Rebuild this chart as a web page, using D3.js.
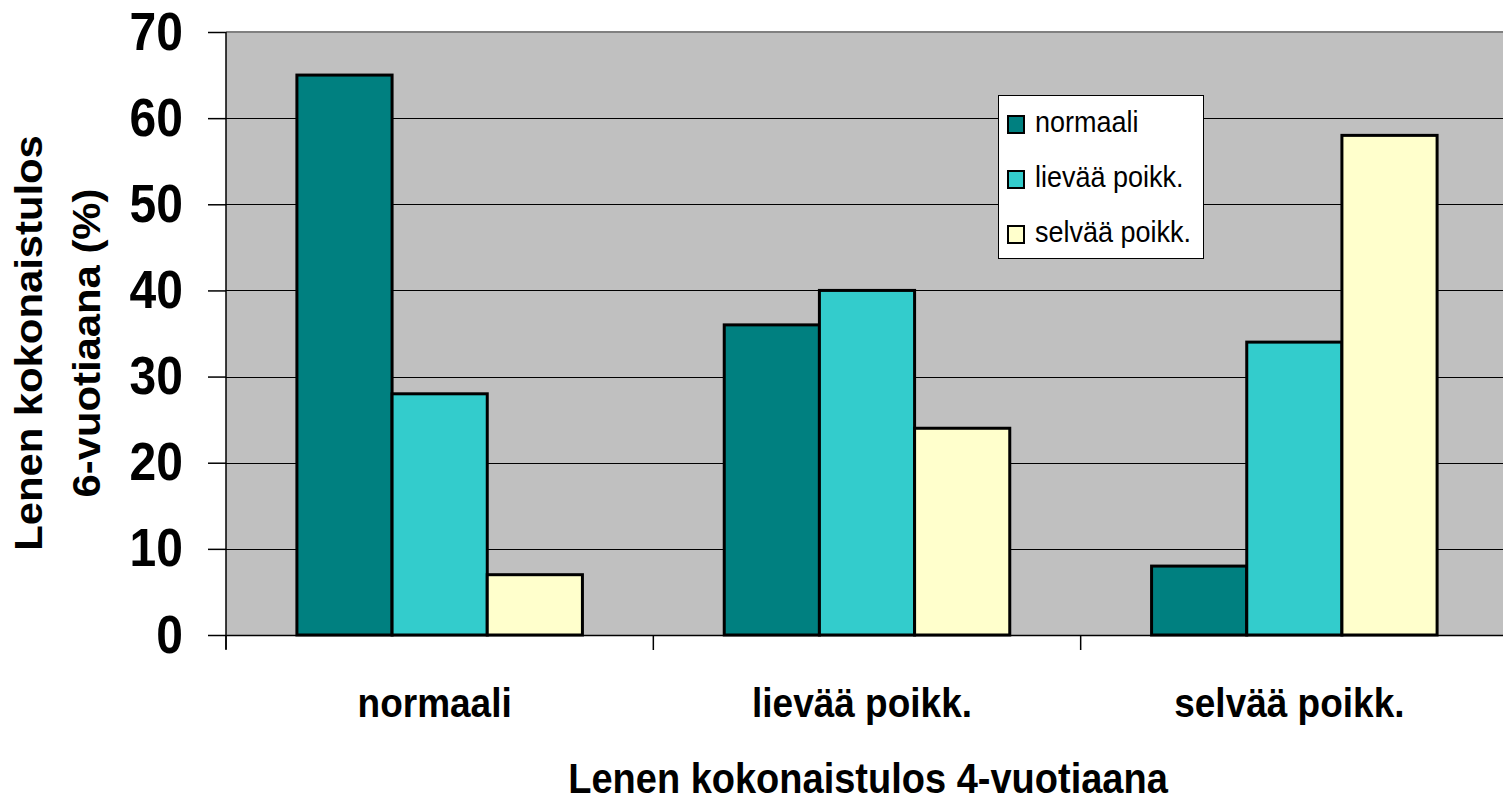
<!DOCTYPE html>
<html><head><meta charset="utf-8">
<script src="https://cdn.jsdelivr.net/npm/d3@7"></script>
<style>body{margin:0;background:#fff}svg{display:block}text{font-family:Arial,"Liberation Sans",sans-serif}</style>
</head><body>
<svg id="c" width="1503" height="802"></svg>
<script>
const categories = ["normaali", "lievää poikk.", "selvää poikk."];
const seriesNames = ["normaali", "lievää poikk.", "selvää poikk."];
const normaali = [65, 36, 8];
const lievaa = [28, 40, 34];
const selvaa = [7, 24, 58];
const yTicks = [0, 10, 20, 30, 40, 50, 60, 70];
const colors = ["#008080", "#33CCCC", "#FFFFCC"];
const values = [normaali, lievaa, selvaa];

const SY = 1.1; // vertical text stretch seen in the reference
const svg = d3.select("#c");
const L = 226, R = 1508, T = 32, B = 635;
const x = d3.scaleBand().domain(categories).range([L, R]).paddingInner(0).paddingOuter(0);
const xs = d3.scaleBand().domain(seriesNames).range([0, x.bandwidth()]).paddingOuter(0.745).paddingInner(0);
const y = d3.scaleLinear().domain([0, 70]).range([B, T]);

svg.append("rect").attr("x", L).attr("y", T).attr("width", R - L).attr("height", B - T).attr("fill", "#C0C0C0");
svg.append("line").attr("x1", L).attr("x2", R).attr("y1", T).attr("y2", T).attr("stroke", "#808080").attr("stroke-width", 2);

// gridlines
svg.append("g").selectAll("line").data(yTicks.filter(d => d > 0 && d < 70)).join("line")
  .attr("x1", L).attr("x2", R).attr("y1", d => Math.round(y(d)) + 0.5).attr("y2", d => Math.round(y(d)) + 0.5)
  .attr("stroke", "#000").attr("stroke-width", 1);

// bars
seriesNames.forEach((s, si) => {
  svg.append("g").selectAll("rect").data(categories).join("rect")
    .attr("x", c => x(c) + xs(s))
    .attr("y", (c, ci) => y(values[si][ci]))
    .attr("width", xs.bandwidth())
    .attr("height", (c, ci) => B - y(values[si][ci]))
    .attr("fill", colors[si]).attr("stroke", "#000").attr("stroke-width", 3);
});

// y axis
const yAxis = d3.axisLeft(y).tickValues(yTicks).tickSize(18).tickPadding(0);
const ga = svg.append("g").attr("transform", `translate(${L},0)`).call(yAxis);
ga.select(".domain").attr("stroke", "#000").attr("stroke-width", 1.5).attr("d", `M0,${T}V${B + 14}`);
ga.selectAll(".tick line").attr("stroke", "#000").attr("stroke-width", 1.5);
ga.selectAll(".tick text").attr("font-size", 48).attr("font-weight", "bold").attr("fill", "#000")
  .attr("x", 0).attr("dy", 0).attr("y", 17 / SY)
  .attr("transform", `translate(-43,0) scale(1,${SY})`);

// x axis
const xAxis = d3.axisBottom(x).tickSize(0).tickPadding(0);
const gx = svg.append("g").attr("transform", `translate(0,${B})`).call(xAxis);
gx.select(".domain").attr("stroke", "#000").attr("stroke-width", 1.5);
gx.selectAll(".tick text").attr("font-size", 37).attr("font-weight", "bold").attr("fill", "#000")
  .attr("x", -5).attr("y", 0).attr("dy", 0)
  .attr("transform", `translate(0,82) scale(1,${SY})`);
const bounds = categories.map(c => x(c)).concat([R]);
svg.append("g").selectAll("line").data(bounds).join("line")
  .attr("x1", d => d).attr("x2", d => d).attr("y1", B).attr("y2", B + 15).attr("stroke", "#000").attr("stroke-width", 1.5);

// axis titles
svg.append("text").attr("transform", `translate(868,793) scale(1,${SY})`).attr("text-anchor", "middle")
  .attr("font-size", 38).attr("font-weight", "bold").text("Lenen kokonaistulos 4-vuotiaana");
const yt = svg.append("text").attr("transform", `translate(0,343) scale(1,${SY}) rotate(-90)`).attr("text-anchor", "middle")
  .attr("font-size", 38).attr("font-weight", "bold");
yt.append("tspan").attr("x", 0).attr("y", 42).text("Lenen kokonaistulos");
yt.append("tspan").attr("x", 0).attr("y", 100).text("6-vuotiaana (%)");

// legend
const lg = svg.append("g").attr("transform", "translate(998,95)");
lg.append("rect").attr("x", 0.5).attr("y", 0.5).attr("width", 205).attr("height", 163).attr("fill", "#fff").attr("stroke", "#000").attr("stroke-width", 1);
seriesNames.forEach((s, i) => {
  const base = 37 + i * 55;
  lg.append("rect").attr("x", 10).attr("y", base - 16).attr("width", 16).attr("height", 17)
    .attr("fill", colors[i]).attr("stroke", "#000").attr("stroke-width", 2);
  lg.append("text").attr("transform", `translate(37,${base}) scale(1,${SY})`).attr("font-size", 27).text(s);
});
</script>
</body></html>
